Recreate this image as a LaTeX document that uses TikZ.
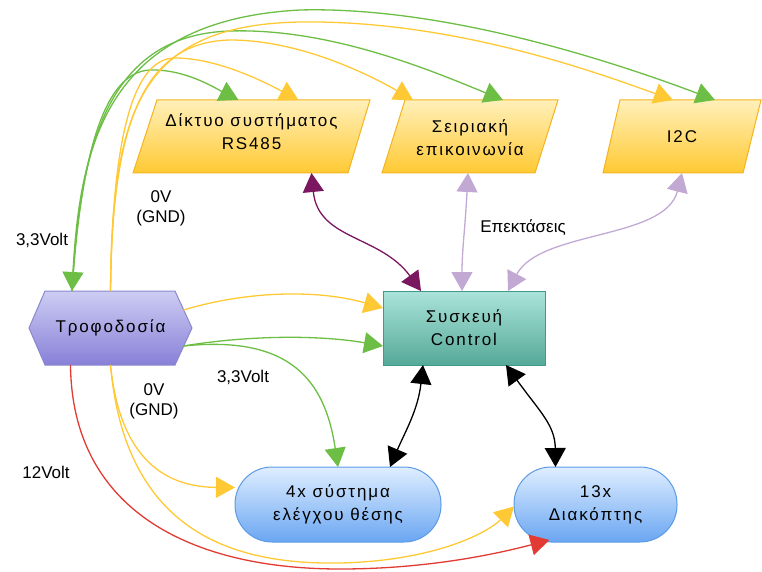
\documentclass[tikz,border=0pt]{standalone}
\usepackage{fontspec}
\setmainfont{Liberation Sans}
\newfontfamily\boxfont[LetterSpace=11]{Liberation Sans}
\usetikzlibrary{arrows.meta,backgrounds,calc}

\definecolor{wireGreen}{HTML}{6DBE45}
\definecolor{wireYellow}{HTML}{FFC935}
\definecolor{wirePlum}{HTML}{7B1660}
\definecolor{wireLilac}{HTML}{C2A9D4}
\definecolor{wireRed}{HTML}{E23B33}
\definecolor{busTop}{HTML}{FFF0BA}
\definecolor{busBot}{HTML}{FFC933}
\definecolor{busLine}{HTML}{F5B41E}
\definecolor{psuTop}{HTML}{CDCDF3}
\definecolor{psuBot}{HTML}{8880D8}
\definecolor{psuLine}{HTML}{8B87CF}
\definecolor{ctlTop}{HTML}{ABE3DA}
\definecolor{ctlBot}{HTML}{55A998}
\definecolor{ctlLine}{HTML}{3F9A8B}
\definecolor{ioTop}{HTML}{DFEEFF}
\definecolor{ioBot}{HTML}{6AA6F2}
\definecolor{ioLine}{HTML}{5B9BE6}

\begin{document}
\begin{tikzpicture}[x=1pt,y=-1pt,
  font=\fontsize{17}{20}\selectfont,
  >={Triangle[length=19pt,width=21pt]},
  frame/.style={inner sep=0pt, outer sep=0pt},
  boxtext/.style={font=\boxfont\fontsize{17}{23}\selectfont, align=center},
  busfill/.style={top color=busTop, bottom color=busBot, draw=busLine, line width=1pt},
  psufill/.style={top color=psuTop, bottom color=psuBot, draw=psuLine, line width=1pt},
  ctlbox/.style={frame, boxtext, top color=ctlTop, bottom color=ctlBot, draw=ctlLine, line width=1pt},
  iobox/.style={frame, boxtext, top color=ioTop, bottom color=ioBot, draw=ioLine, line width=1pt, rounded corners=37pt},
  wire/.style={line width=1.3pt, ->},
  link/.style={line width=1.3pt, <->},
  note/.style={align=center}
]
\useasboundingbox (0,0) rectangle (762,572);

% ---- blocks -------------------------------------------------------------
\node[frame, minimum width=237, minimum height=73,
      label={[boxtext, yshift=5pt]center:Δίκτυο συστήματος\\RS485}] (rs) at (251.5,136.5) {};
\node[frame, minimum width=176, minimum height=73,
      label={[boxtext, yshift=-1pt]center:Σειριακή\\επικοινωνία}] (ser) at (470,136.5) {};
\node[frame, minimum width=158, minimum height=73,
      label={[boxtext]center:I2C}] (i2c) at (682,136.5) {};
\node[frame, minimum width=163, minimum height=74,
      label={[boxtext]center:Τροφοδοσία}] (psu) at (110.5,328) {};
\node[ctlbox, minimum width=162, minimum height=74] (ctl) at (464,328) {Συσκευή\\Control};
\node[iobox, minimum width=206, minimum height=75] (pos) at (338,504.5) {4x σύστημα\\ελέγχου θέσης};
\node[iobox, minimum width=163, minimum height=75] (sw) at (595.5,504.5) {13x\\Διακόπτης};

\begin{scope}[on background layer]
  \path[busfill] ([xshift=24pt]rs.north west) -- (rs.north east)
     -- ([xshift=-22pt]rs.south east) -- (rs.south west) -- cycle;
  \path[busfill] ([xshift=23pt]ser.north west) -- (ser.north east)
     -- ([xshift=-23pt]ser.south east) -- (ser.south west) -- cycle;
  \path[busfill] ([xshift=17pt]i2c.north west) -- (i2c.north east)
     -- ([xshift=-18pt]i2c.south east) -- (i2c.south west) -- cycle;
  \path[psufill] (psu.west) -- ([xshift=16pt]psu.north west) -- ([xshift=-17pt]psu.north east)
     -- (psu.east) -- ([xshift=-17pt]psu.south east) -- ([xshift=16pt]psu.south west) -- cycle;
\end{scope}

% ---- 3,3 V supply (green) ------------------------------------------------
\draw[wireGreen, link] ($(psu.north)+(-38.5,0)$) .. controls (80,140) and (110,20) .. (300,10)
   .. controls (450,6) and (625,66) .. ($(i2c.north)+(33,0)$);
\draw[wireGreen, wire] ($(psu.north)+(-38.5,0)$) .. controls (80,150) and (105,35) .. (230,31)
   .. controls (330,28) and (430,70) .. ($(ser.north)+(33,0)$);
\draw[wireGreen, wire] ($(psu.north)+(-38.5,0)$) .. controls (80,170) and (100,72) .. (150,70)
   .. controls (185,69) and (215,88) .. ($(rs.north)+(-13,0)$);

% ---- 0 V / GND (yellow) --------------------------------------------------
\draw[wireYellow, wire] (psu.north) .. controls (112,110) and (140,25) .. (300,22)
   .. controls (450,20) and (590,70) .. ($(i2c.north)+(-9,0)$);
\draw[wireYellow, wire] (psu.north) .. controls (112,130) and (140,42) .. (230,40)
   .. controls (300,40) and (370,75) .. ($(ser.north)+(-57,0)$);
\draw[wireYellow, wire] (psu.north) .. controls (112,150) and (130,58) .. (175,58)
   .. controls (220,58) and (270,85) .. ($(rs.north)+(47,0)$);

% ---- supply to the controller and the peripherals -------------------------
\draw[wireYellow, wire] ($(psu.center)+(73,-18)$) .. controls (250,290) and (320,290) .. ($(ctl.west)+(0,-20)$);
\draw[wireGreen, wire] ($(psu.center)+(73,18)$) .. controls (250,335) and (320,335) .. ($(ctl.west)+(0,18)$);
\draw[wireGreen, wire] ($(psu.center)+(73,18)$) .. controls (290,335) and (325,380) .. (pos.north);
\draw[wireYellow, wire] (psu.south) .. controls (118,440) and (150,487) .. ($(pos.west)+(0,-17)$);
\draw[wireYellow, wire] (psu.south) .. controls (125,530) and (230,565) .. (340,563)
   .. controls (430,561) and (485,535) .. ($(sw.west)+(0,2)$);
\draw[wireRed, wire] ($(psu.south)+(-40,0)$) .. controls (72,510) and (190,569) .. (340,569)
   .. controls (430,569) and (500,553) .. ($(sw.south)+(-46,-2)$);

% ---- data links ------------------------------------------------------------
\draw[wirePlum, link] ($(rs.south)+(60,0)$) .. controls (318,240) and (380,235) .. ($(ctl.north)+(-43,0)$);
\draw[wireLilac, link] ($(ser.south)+(-2,0)$) .. controls (465,230) and (462,250) .. ($(ctl.north)+(-2,0)$);
\draw[wireLilac, link] (i2c.south) .. controls (665,240) and (540,230) .. ($(ctl.north)+(44,0)$);
\draw[black, link] ($(ctl.south)+(-41,0)$) .. controls (418,410) and (405,432) .. ($(pos.north)+(52,0)$);
\draw[black, link] ($(ctl.south)+(42,0)$) .. controls (540,412) and (555,425) .. ($(sw.north)+(-40,0)$);

% ---- labels ---------------------------------------------------------------
\node[note] (vcc1) at (42,240) {3,3Volt};
\node[note] (gnd1) at (161,208) {0V\\(GND)};
\node[note] (vcc2) at (243,377) {3,3Volt};
\node[note] (gnd2) at (154,401) {0V\\(GND)};
\node[note] (v12) at (46,472) {12Volt};
\node[note] (ext) at (523,228) {Επεκτάσεις};
\end{tikzpicture}
\end{document}
